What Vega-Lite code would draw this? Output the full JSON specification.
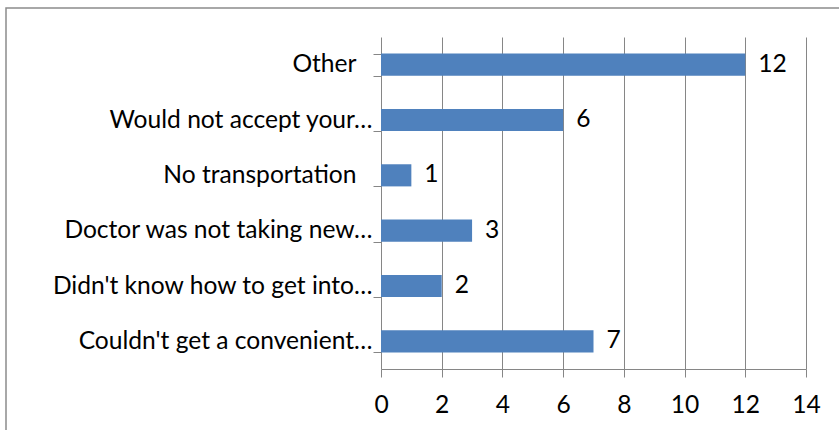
{
  "$schema": "https://vega.github.io/schema/vega-lite/v6.json",
  "autosize": "none",
  "width": 850,
  "height": 440,
  "padding": {"left": 6, "top": 8, "right": 0, "bottom": 0},
  "background": "white",
  "config": {
    "view": {"stroke": "#8c8c8c", "strokeWidth": 1.5},
    "font": "Lato"
  },
  "data": {
    "values": [
      {"reason": "Other", "count": 12},
      {"reason": "Would not accept your…", "count": 6},
      {"reason": "No transportation", "count": 1},
      {"reason": "Doctor was not taking new…", "count": 3},
      {"reason": "Didn't know how to get into…", "count": 2},
      {"reason": "Couldn't get a convenient…", "count": 7}
    ]
  },
  "encoding": {
    "y": {
      "field": "reason",
      "type": "nominal",
      "sort": null,
      "scale": {"range": [29, 361], "paddingInner": 0.6, "paddingOuter": 0.3},
      "axis": {
        "orient": "left",
        "offset": -375,
        "title": null,
        "grid": false,
        "tickBand": "extent",
        "tickSize": 8,
        "tickColor": "#868686",
        "domainColor": "#868686",
        "labelFont": "Lato",
        "labelFontSize": 24.6,
        "labelColor": "black",
        "labelPadding": {"condition": {"test": "datum.value == 'Other' || datum.value == 'No transportation'", "value": 17}, "value": 1},
        "labelLimit": 600
      }
    }
  },
  "layer": [
    {
      "mark": {"type": "bar", "color": "#4F81BD"},
      "encoding": {
        "x": {
          "field": "count",
          "type": "quantitative",
          "scale": {"domain": [0, 14], "range": [375, 800], "nice": false, "zero": true},
          "axis": {
            "orient": "bottom",
            "offset": -79,
            "title": null,
            "grid": false,
            "values": [0, 2, 4, 6, 8, 10, 12, 14],
            "tickSize": 8,
            "tickColor": "#868686",
            "domainColor": "#868686",
            "labelFont": "Lato",
            "labelFontSize": 24.6,
            "labelColor": "black",
            "labelPadding": 16,
            "labelFlush": false
          }
        }
      }
    },
    {
      "mark": {"type": "text", "align": "left", "baseline": "middle", "dx": 13, "fontSize": 24.6, "font": "Lato", "color": "black"},
      "encoding": {
        "text": {"field": "count", "type": "quantitative"},
        "x": {
          "field": "count",
          "type": "quantitative",
          "axis": {
            "orient": "top",
            "title": null,
            "grid": true,
            "gridColor": "#868686",
            "gridWidth": 1,
            "values": [2, 4, 6, 8, 10, 12, 14],
            "labels": false,
            "ticks": false,
            "domain": false
          }
        }
      }
    }
  ],
  "resolve": {"axis": {"x": "independent"}}
}
